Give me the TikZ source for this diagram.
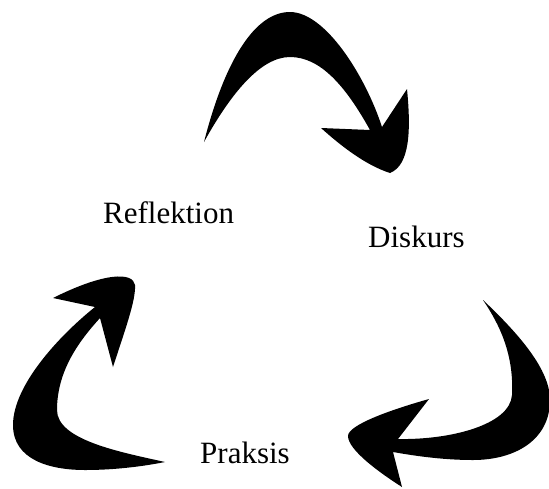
\documentclass[tikz,border=0pt]{standalone}
\usepackage{fontspec}
\setmainfont{Liberation Serif}
\usepackage{tikz}
\tikzset{
  bigarrow/.style={fill=black, draw=none},
  lbl/.style={font=\fontsize{31}{36}\selectfont, anchor=base west, inner sep=0pt}
}

\begin{document}
\begin{tikzpicture}[x=1pt, y=-1pt]
\useasboundingbox (0,0) rectangle (549,488);
\fill[bigarrow] (204,142) .. controls (225,60) and (255,12) .. (290,12)
    .. controls (325,12) and (365,75) .. (382,127) -- (407,89)
    .. controls (411,130) and (410,165) .. (390,173)
    .. controls (365,165) and (340,145) .. (321,128) -- (370,130)
    .. controls (345,85) and (320,57) .. (290,57)
    .. controls (260,57) and (230,95) .. (204,142) -- cycle;
\fill[bigarrow] (483,300) .. controls (520,335) and (550,370) .. (550,400)
    .. controls (550,440) and (515,460) .. (473,460)
    .. controls (440,460) and (410,455) .. (393,452) -- (402,487)
    .. controls (380,473) and (348,450) .. (348,436)
    .. controls (348,425) and (390,410) .. (429,399) -- (398,439)
    .. controls (450,440) and (510,425) .. (512,395)
    .. controls (514,355) and (500,325) .. (483,300) -- cycle;
\fill[bigarrow] (95,307) .. controls (60,335) and (13,385) .. (13,425)
    .. controls (13,460) and (50,470) .. (85,470)
    .. controls (120,470) and (150,465) .. (165,462)
    .. controls (120,452) and (57,440) .. (57,410)
    .. controls (57,370) and (80,340) .. (100,318) -- (113,367)
    .. controls (125,330) and (136,300) .. (135,285)
    .. controls (133,272) and (105,272) .. (53,298) -- cycle;
\node[lbl] (refl) at (103,223) {Reflektion};
\node[lbl] (disk) at (368,247) {Diskurs};
\node[lbl] (prak) at (200,463) {Praksis};
\end{tikzpicture}
\end{document}
